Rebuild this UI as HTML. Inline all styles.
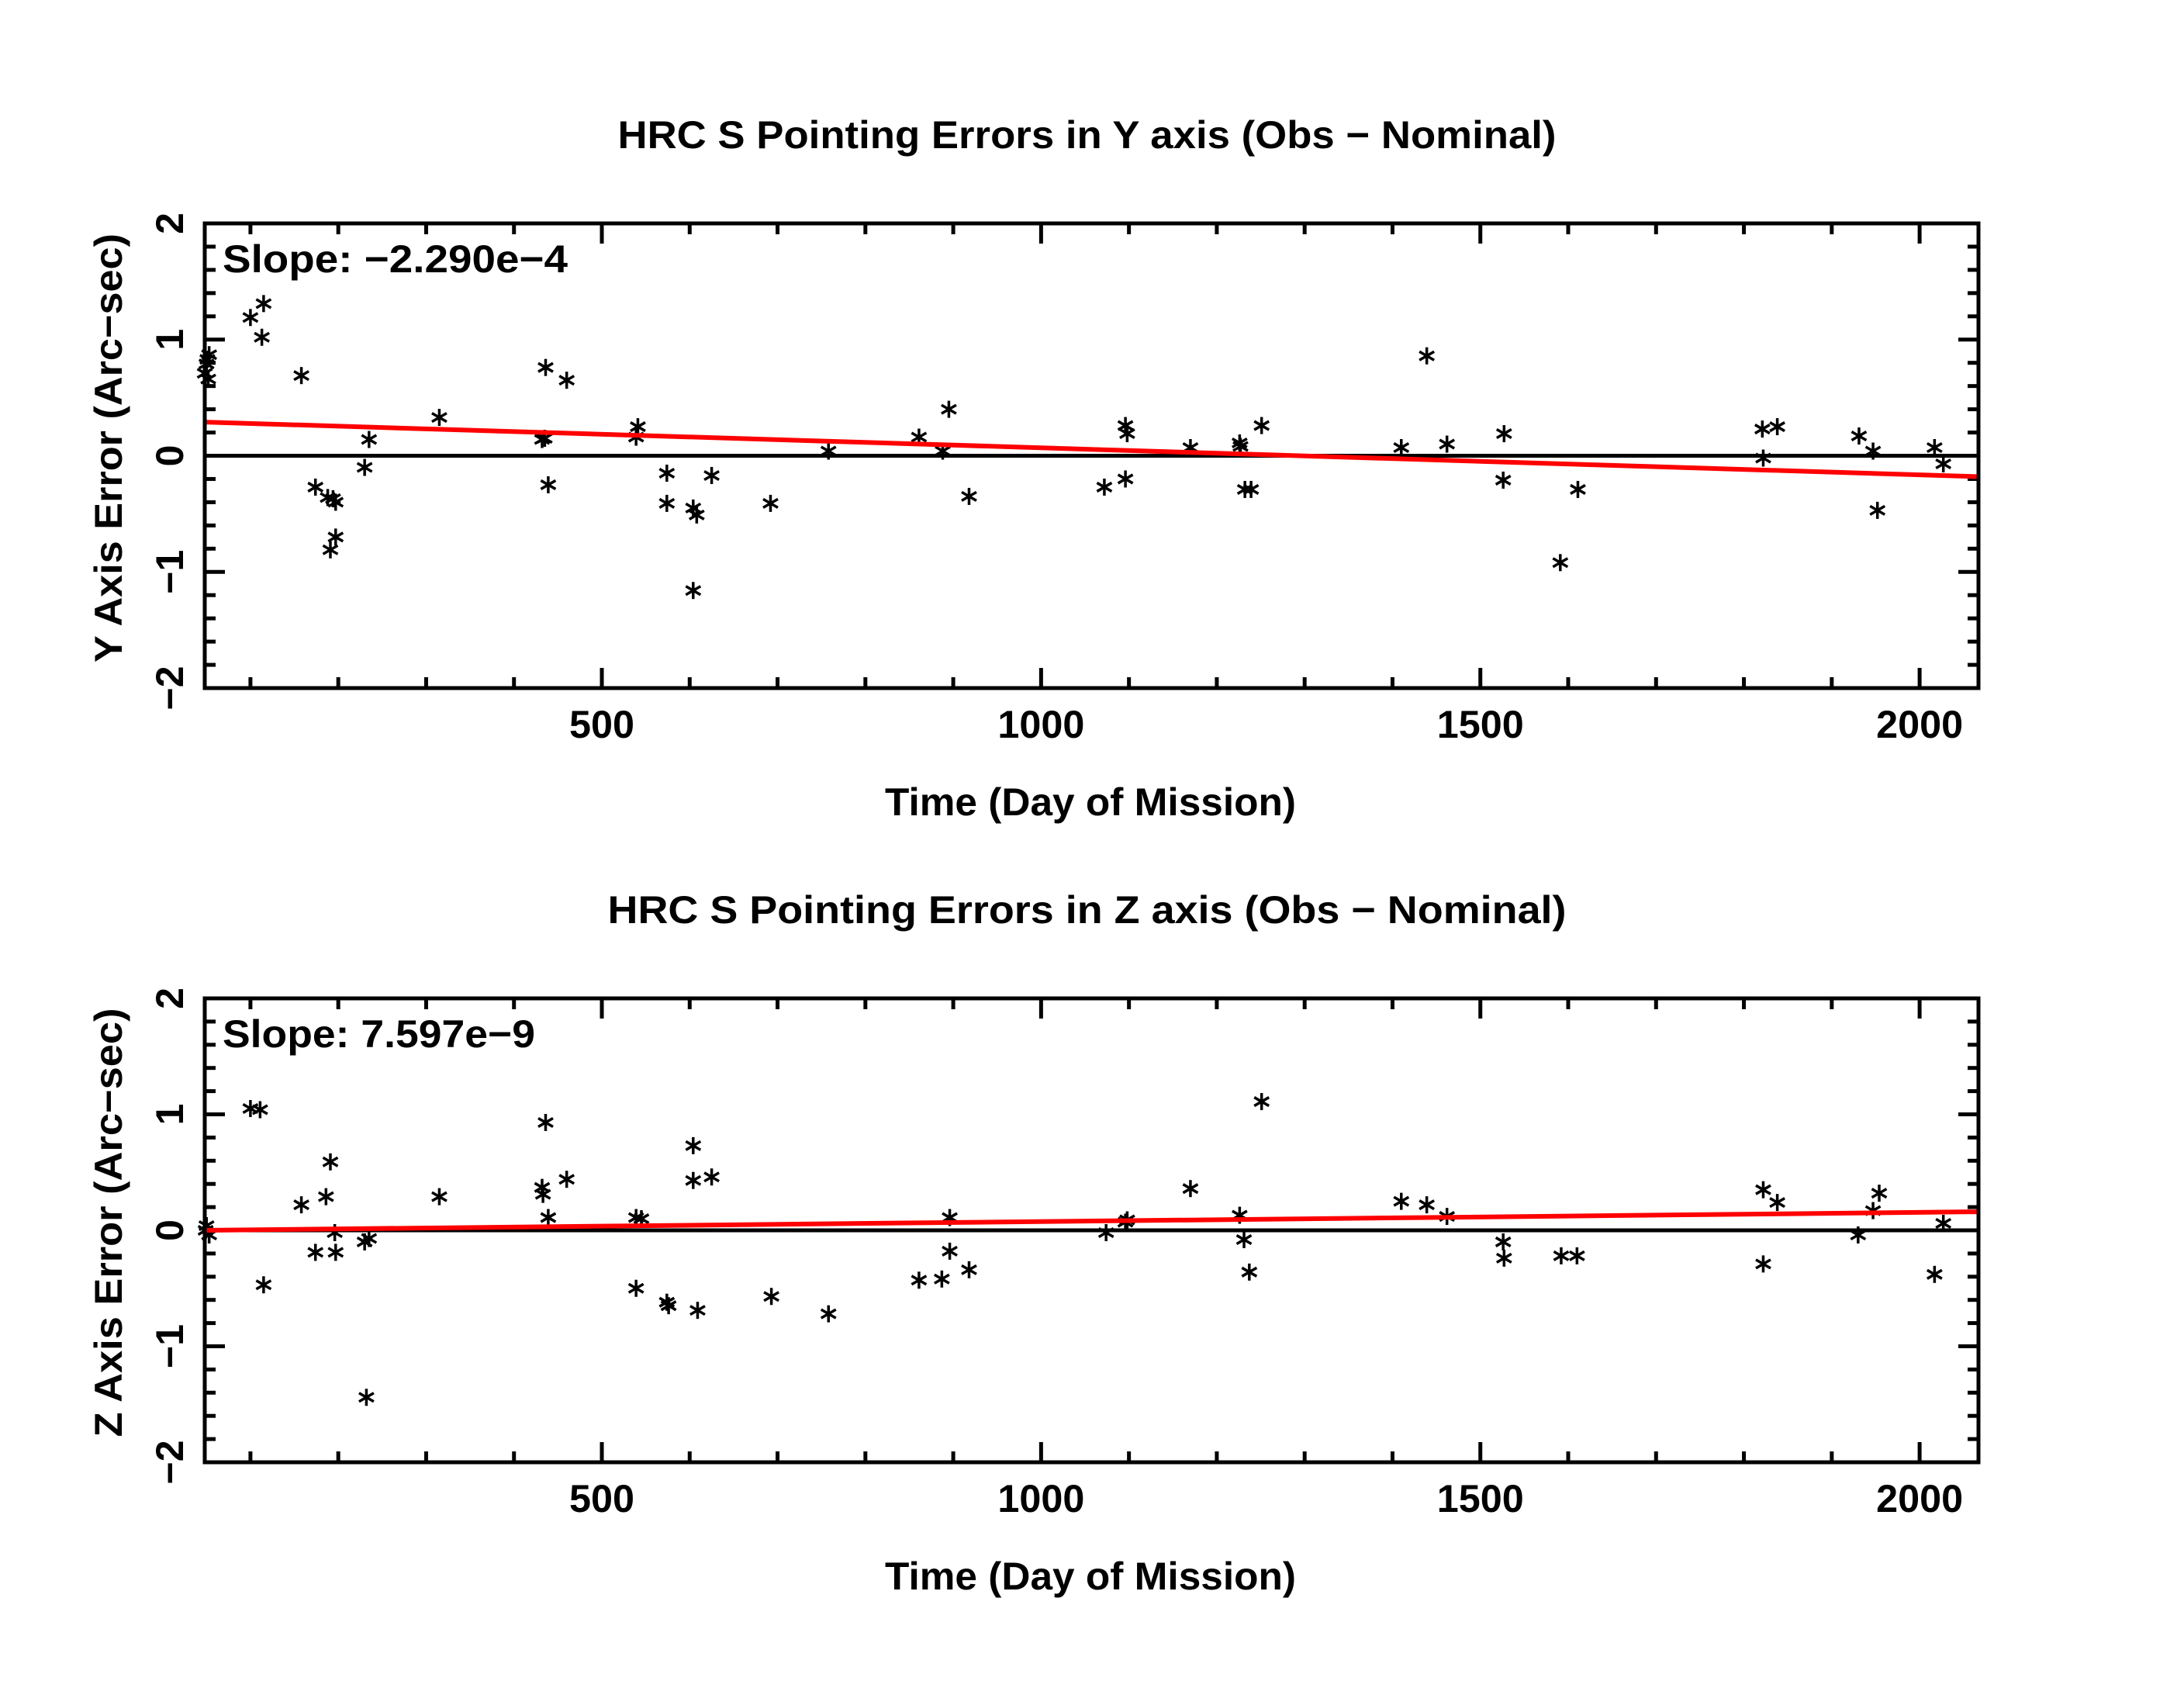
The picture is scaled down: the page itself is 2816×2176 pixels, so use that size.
<!DOCTYPE html>
<html><head><meta charset="utf-8"><style>
html,body{margin:0;padding:0;background:#fff;}
svg{display:block;}
text{font-family:"Liberation Sans",sans-serif;fill:#000;}
</style></head><body>
<svg id="chart" width="2816" height="2176" viewBox="0 0 2816 2176" xmlns="http://www.w3.org/2000/svg"></svg>
<script>
// X axis domain and ticks
const xDomain = [48, 2067];
const xMajorTicks = [500, 1000, 1500, 2000];
const xTickLabels = ["500", "1000", "1500", "2000"];
const yDomain = [-2, 2];
const yMajorTicks = [-2, -1, 0, 1, 2];
const yTickLabels = ["\u22122", "\u22121", "0", "1", "2"];

// Y panel data
const yDays = [48,50,51,53,52,100,115,113,158,174,188,194,197,191,197,235,230,315,432,435,436,439,460,541,539,574,574,604,608,625,604,692,758,861,895,888,918,1072,1096,1098,1096,1170,1226,1227,1232,1239,1251,1410,1439,1462,1527,1526,1591,1611,1821,1822,1838,1931,1947,1952,2017,2027];
const yErrors = [0.71,0.79,0.83,0.87,0.66,1.19,1.31,1.02,0.69,-0.27,-0.36,-0.37,-0.40,-0.81,-0.70,0.14,-0.10,0.33,0.14,0.15,0.76,-0.25,0.65,0.25,0.16,-0.15,-0.41,-0.45,-0.51,-0.17,-1.16,-0.41,0.04,0.16,0.40,0.04,-0.35,-0.27,0.26,0.19,-0.20,0.07,0.11,0.08,-0.29,-0.29,0.26,0.07,0.86,0.10,0.19,-0.21,-0.92,-0.29,0.23,-0.02,0.25,0.17,0.04,-0.47,0.07,-0.07];
const yFit = [0.29, -0.18];

// Z panel data
const zDays = [50,53,49,100,111,115,158,174,186,191,196,197,230,235,232,315,432,433,436,439,460,539,545,539,574,576,604,604,625,609,693,758,861,887,896,896,918,1074,1096,1098,1170,1226,1231,1237,1251,1410,1439,1462,1526,1527,1592,1610,1822,1822,1838,1930,1947,1954,2017,2027];
const zErrors = [0.04,-0.04,0.0,1.05,1.04,-0.47,0.22,-0.19,0.29,0.59,-0.02,-0.19,-0.10,-0.07,-1.44,0.29,0.37,0.31,0.93,0.11,0.44,0.11,0.10,-0.50,-0.62,-0.65,0.73,0.43,0.46,-0.69,-0.57,-0.72,-0.43,-0.42,0.11,-0.18,-0.34,-0.02,0.07,0.09,0.36,0.13,-0.08,-0.36,1.11,0.25,0.22,0.12,-0.10,-0.24,-0.22,-0.22,0.35,-0.29,0.24,-0.04,0.17,0.32,-0.38,0.06];
const zFit = [0.0, 0.16];

const NS = "http://www.w3.org/2000/svg";
const svg = document.getElementById("chart");
function mk(tag, attrs, parent) {
  const e = document.createElementNS(NS, tag);
  for (const k in attrs) e.setAttribute(k, attrs[k]);
  (parent || svg).appendChild(e);
  return e;
}
const L = 264, R = 2551;
function xs(v) { return L + (v - xDomain[0]) / (xDomain[1] - xDomain[0]) * (R - L); }
const FW = "bold";

function panel(name, top, bottom, title, titleLen, ytitle, slope, days, errs, fit) {
  const g = mk("g", {});
  
  
  const ys = v => bottom - (v - yDomain[0]) / (yDomain[1] - yDomain[0]) * (bottom - top);
  const t = mk("text", {x: (L + R) / 2 - 6, y: top - 97, "font-size": 50, "font-weight": FW, "text-anchor": "middle", textLength: titleLen, lengthAdjust: "spacingAndGlyphs"}, g);
  t.textContent = title;
  
  
  for (let v = 100; v <= 2000; v += 100) {
    if (v < xDomain[0]) continue;
    const major = v % 500 === 0;
    const len = major ? 26 : 14;
    const x = xs(v);
    mk("line", {x1: x, y1: bottom, x2: x, y2: bottom - len, stroke: "#000", "stroke-width": 5}, g);
    mk("line", {x1: x, y1: top, x2: x, y2: top + len, stroke: "#000", "stroke-width": 5}, g);
  }
  for (let i = 0; i <= 20; i++) {
    const v = -2 + i * 0.2;
    const major = i % 5 === 0;
    const len = major ? 26 : 14;
    const y = ys(v);
    mk("line", {x1: L, y1: y, x2: L + len, y2: y, stroke: "#000", "stroke-width": 5}, g);
    mk("line", {x1: R, y1: y, x2: R - len, y2: y, stroke: "#000", "stroke-width": 5}, g);
  }
  xMajorTicks.forEach((v, i) => {
    const lab = xTickLabels[i];
    const tx = mk("text", {x: xs(v), y: bottom + 64, "font-size": 50, "font-weight": FW, "text-anchor": "middle", textLength: lab.length * 28, lengthAdjust: "spacingAndGlyphs"}, g);
    tx.textContent = lab;
    
    
  });
  yMajorTicks.forEach((v, i) => {
    const y = ys(v);
    const ty = mk("text", {x: 0, y: 0, "font-size": 50, "font-weight": FW, "text-anchor": "middle", transform: `translate(236,${y}) rotate(-90)`}, g);
    ty.textContent = yTickLabels[i];
    
    
  });
  const xt = mk("text", {x: 1406, y: bottom + 164, "font-size": 50, "font-weight": FW, "text-anchor": "middle", textLength: 530, lengthAdjust: "spacingAndGlyphs"}, g);
  xt.textContent = "Time (Day of Mission)";
  
  
  const yt = mk("text", {x: 0, y: 0, "font-size": 50, "font-weight": FW, "text-anchor": "middle", textLength: 553, lengthAdjust: "spacingAndGlyphs", transform: `translate(157,${(top + bottom) / 2 - 10}) rotate(-90)`}, g);
  yt.textContent = ytitle;
  
  
  mk("line", {x1: L, y1: ys(0), x2: R, y2: ys(0), stroke: "#000", "stroke-width": 5}, g);
  days.forEach((d, i) => {
    const cx = xs(d), cy = ys(errs[i]);
    const s = mk("g", {stroke: "#000", "stroke-width": 3.5}, g);
    
    
    mk("line", {x1: cx, y1: cy - 11, x2: cx, y2: cy + 11}, s);
    mk("line", {x1: cx - 9.5, y1: cy - 5.5, x2: cx + 9.5, y2: cy + 5.5}, s);
    mk("line", {x1: cx - 9.5, y1: cy + 5.5, x2: cx + 9.5, y2: cy - 5.5}, s);
  });
  const fl = mk("line", {x1: xs(xDomain[0]), y1: ys(fit[0]), x2: xs(xDomain[1]), y2: ys(fit[1]), stroke: "#ff0000", "stroke-width": 6}, g);
  
  
  const fr = mk("rect", {x: L, y: top, width: R - L, height: bottom - top, fill: "none", stroke: "#000", "stroke-width": 5}, g);
  
  
  const sl = mk("text", {x: 287, y: top + 63, "font-size": 50, "font-weight": FW, textLength: slope.tl, lengthAdjust: "spacingAndGlyphs"}, g);
  sl.textContent = slope.text;
  
  
}

panel("y-axis", 288, 887, "HRC S Pointing Errors in Y axis (Obs \u2212 Nominal)", 1210, "Y Axis Error (Arc\u2212sec)", {text: "Slope: \u22122.290e\u22124", tl: 445}, yDays, yErrors, yFit);
panel("z-axis", 1287, 1885, "HRC S Pointing Errors in  Z axis (Obs \u2212 Nominal)", 1236, "Z Axis Error (Arc\u2212sec)", {text: "Slope: 7.597e\u22129", tl: 403}, zDays, zErrors, zFit);
</script>
</body></html>
